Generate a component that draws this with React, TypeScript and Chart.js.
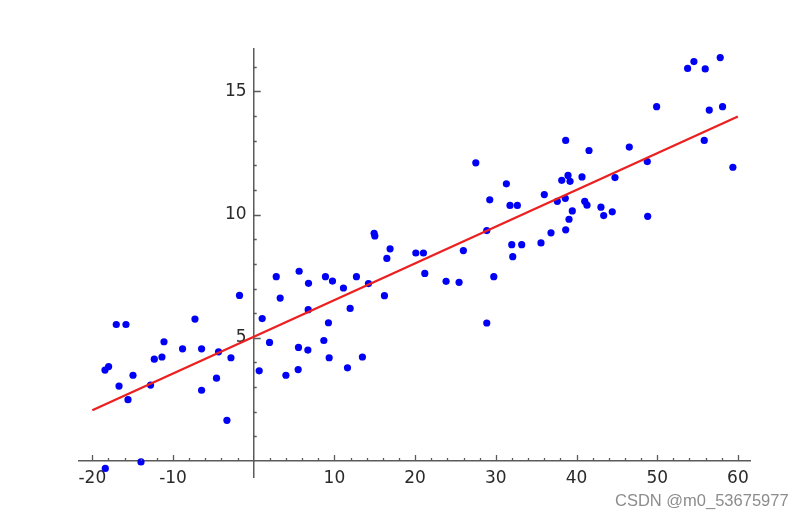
import React, { useEffect, useRef } from "react";
import { Chart, registerables } from "chart.js";

Chart.register(...registerables);

// Scatter data
const pointX: number[] = [
  -1.76, -17.03, -15.83, -7.28, -11.12, -8.82, -6.46, -4.36, -2.82, -12.32, -11.37,
  -17.98, -18.43, -14.96, -16.69, -12.78, -4.61, -15.58, -6.46, -3.32, -13.97, -18.39,
  14.92, 15.01, 16.9, 16.5, 20.09, 21.03, 21.2, 23.84, 2.79, 5.63, 6.79, 8.89, 9.76,
  12.73, 11.12, 14.22, 3.28, 16.2, 1.05, 6.75, 11.95, 9.26, 1.96, 5.55, 6.71, 8.69,
  9.35, 13.47, 11.62, 0.68, 3.99, 5.51,
  38.66, 41.55, 46.54, 27.52, 38.95, 38.17, 39.2, 40.68, 44.77, 31.31, 29.25, 36.01,
  37.62, 38.61, 31.76, 32.67, 41.02, 41.3, 43.03, 39.48, 43.37, 44.43, 39.07, 38.66,
  36.84, 28.88, 35.6, 31.98, 33.21, 32.1, 25.98, 25.45, 29.75, 28.88,
  54.55, 53.77, 55.95, 57.81, 49.93, 56.45, 58.1, 55.83, 48.77, 59.38, 48.82,
];
const pointY: number[] = [
  6.72, 5.54, 5.54, 5.76, 4.84, 4.55, 4.55, 4.43, 4.19, 4.13, 4.22,
  3.83, 3.69, 3.48, 3.04, 3.08, 3.36, 2.49, 2.87, 1.65, -0.04, -0.3,
  9.24, 9.13, 8.61, 8.22, 8.44, 8.44, 7.61, 7.29, 7.48, 7.7, 7.21, 7.48, 7.3,
  7.48, 7.02, 7.2, 6.61, 6.71, 5.78, 6.14, 6.19, 5.61, 4.81, 4.61, 4.5, 4.89,
  4.19, 4.22, 3.78, 3.66, 3.48, 3.71,
  13.01, 12.6, 12.74, 12.1, 11.59, 11.39, 11.35, 11.53, 11.5, 11.25, 10.6, 10.81,
  10.54, 10.66, 10.37, 10.37, 10.54, 10.38, 10.3, 10.15, 9.96, 10.11, 9.81, 9.38,
  9.26, 9.35, 8.85, 8.78, 8.78, 8.29, 8.54, 7.25, 7.48, 5.6,
  16.21, 15.93, 15.91, 16.37, 14.38, 14.24, 14.38, 13.01, 12.15, 11.92, 9.93,
];

// Fitted line endpoints
const lineX: number[] = [-20, 60];
const lineY: number[] = [2.06, 13.98];

// Axis ticks
const xMajorTicks: number[] = [-20, -10, 0, 10, 20, 30, 40, 50, 60];
const xMinorTicks: number[] = [
  -20, -18, -16, -14, -12, -10, -8, -6, -4, -2, 2, 4, 6, 8, 10, 12, 14, 16, 18, 20,
  22, 24, 26, 28, 30, 32, 34, 36, 38, 40, 42, 44, 46, 48, 50, 52, 54, 56, 58, 60,
];
const yMajorTicks: number[] = [5, 10, 15];
const yMinorTicks: number[] = [1, 2, 3, 4, 5, 6, 7, 8, 9, 10, 11, 12, 13, 14, 15, 16];

const AXIS_COLOR = "#5a5a5a";

const minorTickPlugin = {
  id: "minorTicks",
  afterDatasetsDraw(chart: any) {
    const { ctx, scales } = chart;
    const xs = scales.x;
    const ys = scales.y;
    const x0 = xs.getPixelForValue(0);
    const y0 = ys.getPixelForValue(0);
    ctx.save();
    ctx.strokeStyle = AXIS_COLOR;
    ctx.lineWidth = 1.3;
    ctx.beginPath();
    for (const v of xMinorTicks) {
      const px = Math.round(xs.getPixelForValue(v)) + 0.5;
      const len = xMajorTicks.includes(v) ? 6 : 3;
      ctx.moveTo(px, y0);
      ctx.lineTo(px, y0 - len);
    }
    for (const v of yMinorTicks) {
      const py = Math.round(ys.getPixelForValue(v)) + 0.5;
      const len = yMajorTicks.includes(v) ? 7 : 3;
      ctx.moveTo(x0, py);
      ctx.lineTo(x0 + len, py);
    }
    ctx.stroke();
    ctx.restore();
  },
};

export default function App() {
  const canvasRef = useRef<HTMLCanvasElement | null>(null);

  useEffect(() => {
    if (!canvasRef.current) return;
    const points = pointX.map((x, i) => ({ x, y: pointY[i] }));
    const line = lineX.map((x, i) => ({ x, y: lineY[i] }));
    const tickFont = { family: "'DejaVu Sans', sans-serif", size: 17 };
    const chart = new Chart(canvasRef.current, {
      type: "scatter",
      data: {
        datasets: [
          {
            type: "line",
            data: line,
            borderColor: "rgb(236,32,32)",
            borderWidth: 2.4,
            pointRadius: 0,
            fill: false,
            order: 1,
          } as any,
          {
            data: points,
            backgroundColor: "rgb(0,0,245)",
            borderWidth: 0,
            pointRadius: 3.6,
            order: 2,
          },
        ],
      },
      options: {
        animation: false,
        responsive: false,
        maintainAspectRatio: false,
        layout: { padding: { left: 79, right: 56, top: 49, bottom: 41 } },
        plugins: { legend: { display: false }, tooltip: { enabled: false } },
        scales: {
          x: {
            type: "linear",
            min: -21.65,
            max: 61.5,
            position: { y: 0 } as any,
            grid: { display: false, drawTicks: false },
            border: { display: true, color: AXIS_COLOR, width: 1.5 },
            afterBuildTicks: (scale: any) => {
              scale.ticks = xMajorTicks.map((v) => ({ value: v }));
            },
            ticks: {
              autoSkip: false,
              maxRotation: 0,
              padding: 7,
              color: "#2a2a2a",
              font: tickFont,
              callback: (v: any) => (v === 0 ? "" : String(v)),
            },
          },
          y: {
            type: "linear",
            min: -0.65,
            max: 16.72,
            position: { x: 0 } as any,
            grid: { display: false, drawTicks: false },
            border: { display: true, color: AXIS_COLOR, width: 1.5 },
            afterBuildTicks: (scale: any) => {
              scale.ticks = yMajorTicks.map((v) => ({ value: v }));
            },
            ticks: {
              autoSkip: false,
              padding: 6,
              color: "#2a2a2a",
              font: tickFont,
              callback: (v: any) => String(v) + "\u00a0\u200a",
            },
          },
        },
      },
      plugins: [minorTickPlugin],
    });
    return () => chart.destroy();
  }, []);

  return (
    <div style={{ position: "absolute", left: 0, top: 0, width: 806, height: 518, background: "#fff" }}>
      <canvas ref={canvasRef} width={806} height={518} style={{ width: 806, height: 518, display: "block" }} />
      <div
        style={{
          position: "absolute",
          left: 615,
          top: 490,
          fontFamily: "'Liberation Sans', Arial, sans-serif",
          fontSize: 16.5,
          lineHeight: "20px",
          color: "#8c8c8c",
          whiteSpace: "nowrap",
        }}
      >
        CSDN @m0_53675977
      </div>
    </div>
  );
}
